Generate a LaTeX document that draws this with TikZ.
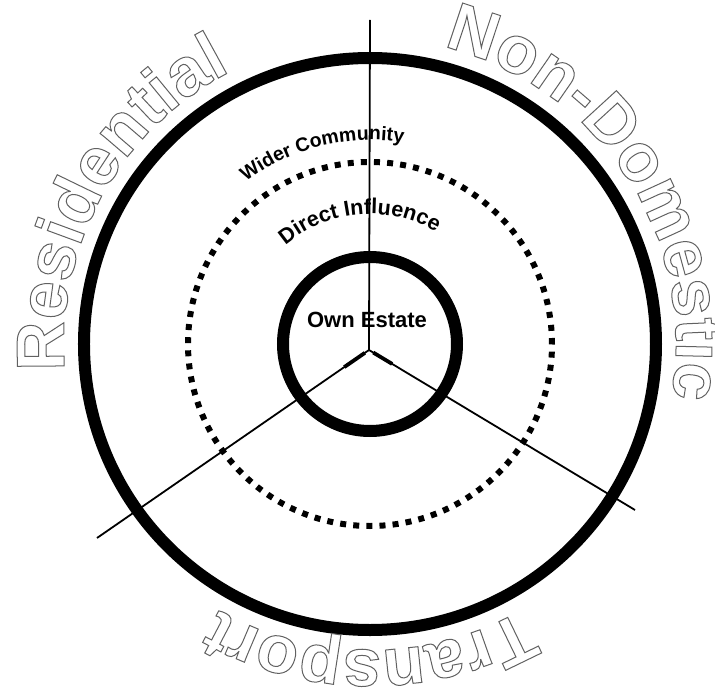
\documentclass[tikz,border=0pt]{standalone}
\usepackage{fontspec}
\setmainfont{Liberation Sans}
\usetikzlibrary{decorations.text,calc}
\definecolor{outline}{gray}{0.38}

\begin{document}
\begin{tikzpicture}[x=1pt, y=1pt,
    ring/.style={line width=12pt},
    dotring/.style={line width=6pt, dash pattern=on 6pt off 7.14pt},
    spoke/.style={line width=1.8pt},
    hubspoke/.style={line width=3.8pt},
    ringtext/.style={decorate, decoration={text along path, text align=center, text={#1}}}]

    \useasboundingbox (-370,-347) rectangle (345,344);

    % radii
    \def\Rout{286}
    \def\Rdot{182}
    \def\Rin{87}
    \def\Rword{306}

    % Rings
    \draw[ring]    (0,0) circle[radius=\Rout];
    \draw[dotring] (0,0) circle[radius=\Rdot];
    \draw[ring]    (0,0) circle[radius=\Rin];

    % Spokes between the three sectors
    \coordinate (hub)  at (-1,-6);
    \coordinate (tend) at (0,324);
    \coordinate (lend) at (-273,-194);
    \coordinate (rend) at (265,-166);
    \draw[spoke] (hub) -- (tend);
    \draw[spoke] (hub) -- (lend);
    \draw[spoke] (hub) -- (rend);
    \draw[hubspoke] ($(hub)!5pt!(lend)$) -- ($(hub)!30pt!(lend)$);
    \draw[hubspoke] ($(hub)!5pt!(rend)$) -- ($(hub)!27pt!(rend)$);

    % Ring labels
    \node[font=\bfseries\fontsize{22}{22}\selectfont] (own) at (-3,24) {Own Estate};
    \path[ringtext={|\bfseries\fontsize{21.5}{21.5}\selectfont|Direct Influence}]
        (185:130) arc[start angle=185, end angle=5, radius=130];
    \path[ringtext={|\bfseries\fontsize{19.5}{19.5}\selectfont|Wider Community}]
        (194:204) arc[start angle=194, end angle=14, radius=204];

    % Sector names, outlined letters (stroke only)
    \path[ringtext={|\bfseries\fontsize{68}{68}\selectfont\color{outline}\special{pdf:code 1 Tr 1 w}|Residential}]
        (241:\Rword) arc[start angle=241, end angle=61, radius=\Rword];
    \path[ringtext={|\bfseries\fontsize{68}{68}\selectfont\color{outline}\special{pdf:code 1 Tr 1 w}|Non-Domestic}]
        (123:\Rword) arc[start angle=123, end angle=-57, radius=\Rword];
    \path[ringtext={|\bfseries\fontsize{68}{68}\selectfont\color{outline}\special{pdf:code 1 Tr 1 w}|Transport}]
        (360:\Rword) arc[start angle=360, end angle=180, radius=\Rword];

\end{tikzpicture}
\end{document}
